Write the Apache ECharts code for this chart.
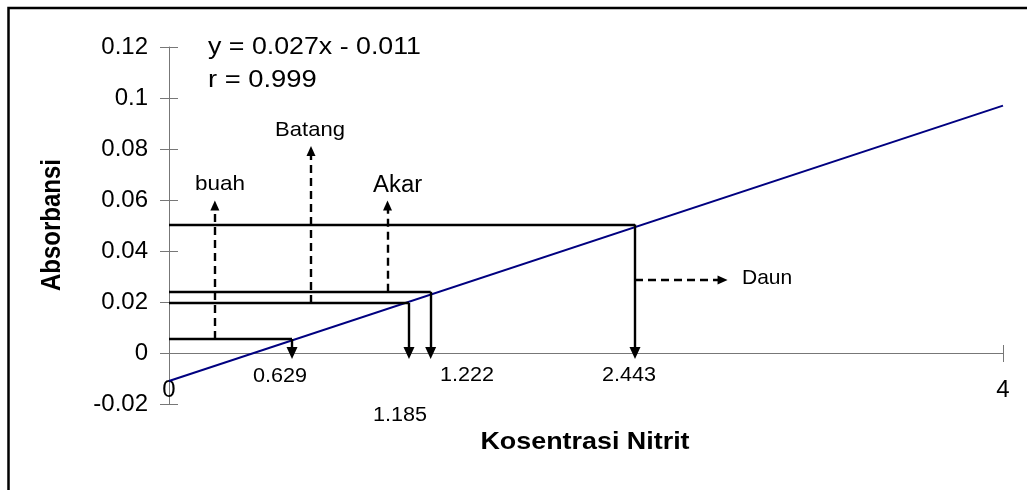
<!DOCTYPE html>
<html>
<head>
<meta charset="utf-8">
<script src="https://cdn.jsdelivr.net/npm/echarts@6/dist/echarts.min.js"></script>
<style>
html,body{margin:0;padding:0;background:#fff;}
#chart{width:1027px;height:490px;}
</style>
</head>
<body>
<div id="chart"></div>
<script>
// ---- data ----
const fitX = [0, 4];
const fitY = [-0.011, 0.097];
const samples = ['buah', 'Batang', 'Akar', 'Daun'];
const absorb = [0.0055, 0.0196, 0.024, 0.0504];      // horizontal read-off levels
const conc = [0.59, 1.151, 1.255, 2.235];            // where the drawn arrows meet the x axis
const concLabels = ['0.629', '1.185', '1.222', '2.443'];
const dashX = [0.22, 0.681, 1.048];                  // dashed up-arrows (buah, Batang, Akar)
const dashTop = [0.0578, 0.0792, 0.0578];
const daunDashY = 0.0286;
const daunDashEnd = 2.655;
const yMin = -0.02, yMax = 0.12, yStep = 0.02;
const xMin = 0, xMax = 4, xStep = 4;
const equation = 'y = 0.027x - 0.011';
const rText = 'r = 0.999';

const FONT = "'Liberation Sans', Arial, Helvetica, sans-serif";
const AX = '#777';

const solid = [];
const dashed = [];
for (let i = 0; i < absorb.length; i++) {
  solid.push([{coord: [0, absorb[i]], symbol: 'none'}, {coord: [conc[i], absorb[i]], symbol: 'none'}]);
  solid.push([{coord: [conc[i], absorb[i]], symbol: 'none'}, {coord: [conc[i], 0], symbol: 'triangle', symbolSize: [11, 12]}]);
}
for (let i = 0; i < dashX.length; i++) {
  dashed.push([{coord: [dashX[i], absorb[i]], symbol: 'none'}, {coord: [dashX[i], dashTop[i]], symbol: 'triangle', symbolSize: [9, 10]}]);
}
dashed.push([{coord: [conc[3], daunDashY], symbol: 'none'}, {coord: [daunDashEnd, daunDashY], symbol: 'triangle', symbolSize: [9, 10]}]);

function txt(text, x, y, size, o) {
  o = o || {};
  return {
    type: 'text', x: x, y: y, scaleX: o.sx || 1, scaleY: o.sy || 1, rotation: o.rot || 0, z: 100,
    style: {
      text: text, x: 0, y: 0, fill: '#000', font: (o.bold ? 'bold ' : '') + size + 'px ' + FONT,
      textAlign: o.align || 'center', textVerticalAlign: 'middle'
    }
  };
}

const chart = echarts.init(document.getElementById('chart'));
chart.setOption({
  animation: false,
  backgroundColor: '#fff',
  grid: {left: 169, right: 24, top: 47, bottom: 86, containLabel: false},
  xAxis: [
    // main x axis line, crossing at y = 0
    {type: 'value', min: xMin, max: xMax, interval: xStep,
     axisLine: {onZero: true, lineStyle: {color: AX, width: 1}},
     axisTick: {show: false}, axisLabel: {show: false}, splitLine: {show: false}},
    // cross ticks of the x axis (shifted so that they straddle y = 0)
    {type: 'value', min: xMin, max: xMax, interval: xStep, position: 'bottom', offset: -59,
     axisLine: {show: false, onZero: false},
     axisTick: {show: true, length: 17, lineStyle: {color: AX}},
     axisLabel: {show: false}, splitLine: {show: false}},
    // x tick labels at the bottom of the plot
    {type: 'value', min: xMin, max: xMax, interval: xStep, position: 'bottom',
     axisLine: {show: false, onZero: false}, axisTick: {show: false},
     axisLabel: {show: true, margin: -14, verticalAlign: 'middle', color: '#000', fontSize: 24, fontFamily: FONT},
     splitLine: {show: false}}
  ],
  yAxis: [
    {type: 'value', min: yMin, max: yMax, interval: yStep,
     axisLine: {show: true, onZero: false, lineStyle: {color: AX, width: 1}},
     axisTick: {show: false},
     axisLabel: {margin: 21, color: '#000', fontSize: 24, fontFamily: FONT},
     splitLine: {show: false}},
    // cross ticks of the y axis
    {type: 'value', min: yMin, max: yMax, interval: yStep, position: 'left', offset: -9,
     axisLine: {show: false, onZero: false},
     axisTick: {show: true, length: 18, lineStyle: {color: AX}},
     axisLabel: {show: false}, splitLine: {show: false}}
  ],
  series: [
    {type: 'line', xAxisIndex: 0, yAxisIndex: 0, data: fitX.map((x, i) => [x, fitY[i]]),
     showSymbol: false, symbol: 'none', lineStyle: {color: '#000080', width: 2}, z: 3},
    {type: 'line', xAxisIndex: 0, yAxisIndex: 0, data: [], z: 4,
     markLine: {silent: true, animation: false, label: {show: false},
       lineStyle: {color: '#000', width: 2.4, type: 'solid'}, itemStyle: {color: '#000'},
       emphasis: {disabled: true}, data: solid}},
    {type: 'line', xAxisIndex: 0, yAxisIndex: 0, data: [], z: 4,
     markLine: {silent: true, animation: false, label: {show: false},
       lineStyle: {color: '#000', width: 2.4, type: [8, 5]}, itemStyle: {color: '#000'},
       emphasis: {disabled: true}, data: dashed}}
  ],
  graphic: [
    {type: 'rect', shape: {x: 8.5, y: 8, width: 1100, height: 600}, style: {fill: 'none', stroke: '#000', lineWidth: 2.5}, z: 0},
    txt(equation, 208, 47, 24, {align: 'left', sx: 1.115}),
    txt(rText, 208, 80, 24, {align: 'left', sx: 1.14}),
    txt(samples[0], 220, 184, 21, {sx: 1.07}),
    txt(samples[1], 310, 130, 21, {sx: 1.05}),
    txt(samples[2], 373, 186, 23, {align: 'left', sx: 1.04}),
    txt(samples[3], 742, 278, 21, {align: 'left'}),
    txt(concLabels[0], 280, 376, 20, {sx: 1.08}),
    txt(concLabels[1], 400, 415, 20, {sx: 1.08}),
    txt(concLabels[2], 467, 375, 20, {sx: 1.08}),
    txt(concLabels[3], 629, 375, 20, {sx: 1.08}),
    txt('Absorbansi', 53, 225, 24, {bold: true, rot: Math.PI / 2, sy: 1.12}),
    txt('Kosentrasi Nitrit', 585, 442, 24, {bold: true, sx: 1.12})
  ]
});
</script>
</body>
</html>
